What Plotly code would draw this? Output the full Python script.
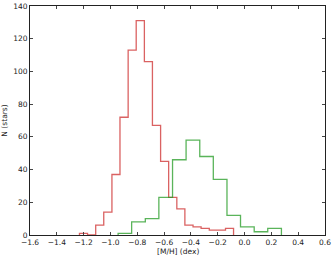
import plotly.graph_objects as go

# Red histogram (bin edges in dex, counts)
red_edges = [-1.231, -1.171, -1.110, -1.050, -0.989, -0.929, -0.868, -0.808, -0.747, -0.687,
             -0.626, -0.566, -0.505, -0.445, -0.384, -0.324, -0.263, -0.203, -0.142, -0.082]
red_counts = [1, 0, 6, 14, 37, 72, 113, 131, 106, 67, 45, 23, 16, 6, 5, 4, 3, 3, 4]

# Green histogram
green_edges = [-0.943, -0.842, -0.740, -0.639, -0.537, -0.436, -0.334, -0.233, -0.131,
               -0.030, 0.072, 0.173, 0.275]
green_counts = [1, 8, 10, 23, 46, 58, 48, 34, 12, 5, 2, 4]

x_ticks = [-1.6, -1.4, -1.2, -1.0, -0.8, -0.6, -0.4, -0.2, 0.0, 0.2, 0.4, 0.6]
y_ticks = [0, 20, 40, 60, 80, 100, 120, 140]


def step_xy(edges, counts):
    xs = [edges[0]] + list(edges)
    ys = [0] + list(counts) + [0]
    return xs, ys


fig = go.Figure()
for edges, counts, col in [(red_edges, red_counts, "rgba(205,45,45,0.75)"),
                           (green_edges, green_counts, "rgba(35,155,35,0.75)")]:
    xs, ys = step_xy(edges, counts)
    fig.add_trace(go.Scatter(x=xs, y=ys, mode="lines", line=dict(color=col, width=1.3, shape="hv"),
                             hoverinfo="skip", showlegend=False))

axis_common = dict(showline=True, linecolor="#222", linewidth=1, mirror="allticks",
                   ticks="inside", ticklen=3, tickcolor="#444", showgrid=False, zeroline=False,
                   tickfont=dict(size=7.5, color="#222"))
fig.update_xaxes(range=[-1.6, 0.6], tickvals=x_ticks, tickformat=".1f", automargin=False,
                 **axis_common)
fig.update_yaxes(range=[0, 140], tickvals=y_ticks, automargin=False,
                 title=dict(text="N (stars)", font=dict(size=7.5, color="#222"), standoff=4),
                 **axis_common)
fig.add_annotation(text="[M/H] (dex)", xref="paper", yref="paper", x=0.5, y=0,
                   xanchor="center", yanchor="top", yshift=-10, showarrow=False,
                   font=dict(size=7.5, color="#222"))
fig.update_layout(width=334, height=257, margin=dict(l=30, r=9, t=6, b=22),
                  paper_bgcolor="white", plot_bgcolor="white",
                  font=dict(family="DejaVu Sans", size=7.5, color="#222"))
fig.write_html("out.html", config={"displayModeBar": False},
               post_script="document.body.style.margin='0';document.body.style.overflow='hidden';")
